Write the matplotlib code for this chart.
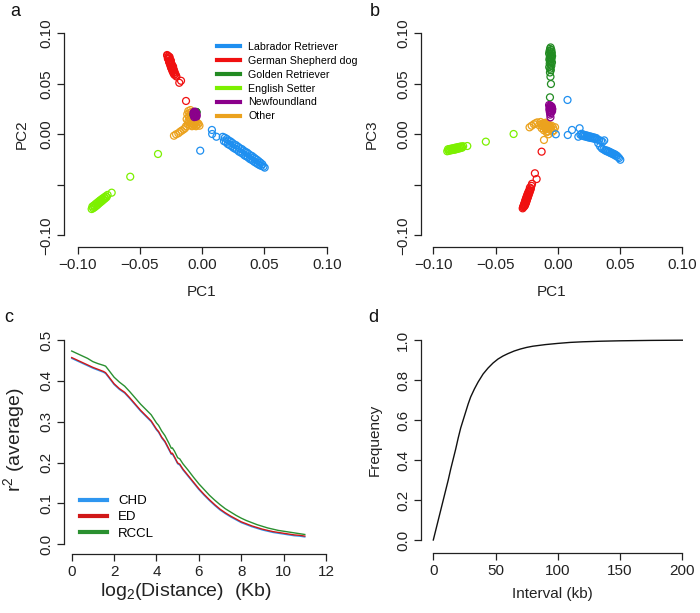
import matplotlib
matplotlib.use("Agg")
import matplotlib.pyplot as plt
from matplotlib.lines import Line2D
import numpy as np

plt.rcParams['font.family'] = ['Liberation Sans', 'DejaVu Sans']

# ---------------- data: PCA (PC1, PC2, PC3 per breed group) ----------------
breeds = ["Labrador Retriever", "German Shepherd dog", "Golden Retriever",
          "English Setter", "Newfoundland", "Other"]
breed_colors = ["#1E8FF0", "#F01010", "#228B22", "#7CF000", "#8B008B", "#EBA21E"]

lab_pc1 = [-0.0016, 0.0078, 0.0080, 0.0114, 0.0165, 0.0175, 0.0182, 0.0190, 0.0198, 0.0205,
           0.0212, 0.0220, 0.0228, 0.0235, 0.0242, 0.0250, 0.0258, 0.0265, 0.0272, 0.0280,
           0.0288, 0.0295, 0.0302, 0.0310, 0.0318, 0.0325, 0.0332, 0.0340, 0.0347, 0.0354,
           0.0360, 0.0367, 0.0373, 0.0380, 0.0387, 0.0393, 0.0400, 0.0407, 0.0414, 0.0420,
           0.0427, 0.0434, 0.0440, 0.0447, 0.0454, 0.0461, 0.0468, 0.0475, 0.0483, 0.0492, 0.0502]
lab_pc2 = [-0.0162, 0.0043, 0.0003, -0.0024, -0.0025, -0.0068, -0.0034, -0.0076, -0.0046, -0.0096,
           -0.0061, -0.0106, -0.0071, -0.0117, -0.0085, -0.0133, -0.0100, -0.0144, -0.0108, -0.0154,
           -0.0123, -0.0171, -0.0137, -0.0181, -0.0146, -0.0192, -0.0160, -0.0209, -0.0174, -0.0218,
           -0.0181, -0.0227, -0.0195, -0.0242, -0.0208, -0.0251, -0.0215, -0.0261, -0.0229, -0.0274,
           -0.0242, -0.0284, -0.0253, -0.0295, -0.0267, -0.0305, -0.0281, -0.0313, -0.0297, -0.0320, -0.0330]
lab_pc3 = [0.0000, 0.0340, -0.0007, 0.0043, -0.0024, 0.0060, -0.0005, 0.0005, -0.0015, -0.0002,
           -0.0020, -0.0008, -0.0025, -0.0012, -0.0030, -0.0018, -0.0035, -0.0022, -0.0038, -0.0028,
           -0.0042, -0.0032, -0.0048, -0.0038, -0.0052, -0.0090, -0.0058, -0.0120, -0.0065, -0.0140,
           -0.0075, -0.0150, -0.0060, -0.0158, -0.0165, -0.0160, -0.0172, -0.0168, -0.0180, -0.0175,
           -0.0188, -0.0185, -0.0195, -0.0192, -0.0205, -0.0200, -0.0215, -0.0212, -0.0225, -0.0235, -0.0252]

gsd_pc1 = [-0.0282, -0.0270, -0.0279, -0.0265, -0.0276, -0.0262, -0.0272, -0.0258, -0.0270, -0.0254,
           -0.0266, -0.0252, -0.0263, -0.0248, -0.0260, -0.0245, -0.0257, -0.0241, -0.0253, -0.0238,
           -0.0250, -0.0234, -0.0246, -0.0230, -0.0242, -0.0226, -0.0237, -0.0222, -0.0231, -0.0216,
           -0.0224, -0.0212, -0.0207, -0.0184, -0.0170, -0.0130]
gsd_pc2 = [0.0785, 0.0772, 0.0778, 0.0760, 0.0752, 0.0765, 0.0744, 0.0735, 0.0748, 0.0726,
           0.0718, 0.0730, 0.0709, 0.0700, 0.0712, 0.0692, 0.0684, 0.0676, 0.0688, 0.0668,
           0.0660, 0.0671, 0.0652, 0.0645, 0.0638, 0.0630, 0.0622, 0.0615, 0.0606, 0.0598,
           0.0590, 0.0582, 0.0572, 0.0510, 0.0530, 0.0330]
gsd_pc3 = [-0.0733, -0.0715, -0.0722, -0.0706, -0.0712, -0.0696, -0.0700, -0.0684, -0.0690, -0.0672,
           -0.0678, -0.0660, -0.0666, -0.0648, -0.0655, -0.0636, -0.0642, -0.0624, -0.0630, -0.0612,
           -0.0618, -0.0598, -0.0605, -0.0584, -0.0590, -0.0570, -0.0575, -0.0556, -0.0558, -0.0538,
           -0.0528, -0.0510, -0.0490, -0.0386, -0.0443, -0.0172]

gold_pc1 = [-0.0058, -0.0062, -0.0052, -0.0066, -0.0056, -0.0048, -0.0070, -0.0060, -0.0054, -0.0046,
            -0.0064, -0.0058, -0.0050, -0.0068, -0.0062, -0.0055, -0.0047, -0.0065, -0.0058, -0.0052,
            -0.0069, -0.0061, -0.0056, -0.0063, -0.0059, -0.0055, -0.0063]
gold_pc2 = [0.0205, 0.0212, 0.0218, 0.0200, 0.0210, 0.0222, 0.0195, 0.0208, 0.0215, 0.0220,
            0.0200, 0.0212, 0.0218, 0.0196, 0.0205, 0.0214, 0.0220, 0.0198, 0.0208, 0.0216,
            0.0194, 0.0204, 0.0212, 0.0200, 0.0206, 0.0210, 0.0202]
gold_pc3 = [0.0860, 0.0845, 0.0835, 0.0825, 0.0815, 0.0808, 0.0800, 0.0790, 0.0782, 0.0775,
            0.0765, 0.0758, 0.0750, 0.0740, 0.0730, 0.0722, 0.0712, 0.0700, 0.0690, 0.0678,
            0.0665, 0.0650, 0.0635, 0.0612, 0.0570, 0.0498, 0.0366]

es_pc1 = [-0.0888, -0.0882, -0.0876, -0.0870, -0.0864, -0.0858, -0.0852, -0.0846, -0.0840, -0.0834,
          -0.0828, -0.0822, -0.0816, -0.0810, -0.0804, -0.0798, -0.0792, -0.0786, -0.0780, -0.0774,
          -0.0768, -0.0760, -0.0727, -0.0578, -0.0355]
es_pc2 = [-0.0740, -0.0715, -0.0732, -0.0705, -0.0722, -0.0692, -0.0710, -0.0680, -0.0698, -0.0668,
          -0.0684, -0.0656, -0.0672, -0.0645, -0.0660, -0.0634, -0.0647, -0.0624, -0.0635, -0.0613,
          -0.0622, -0.0600, -0.0578, -0.0420, -0.0195]
es_pc3 = [-0.0168, -0.0148, -0.0164, -0.0146, -0.0160, -0.0142, -0.0157, -0.0140, -0.0154, -0.0136,
          -0.0152, -0.0132, -0.0148, -0.0130, -0.0144, -0.0126, -0.0140, -0.0123, -0.0136, -0.0120,
          -0.0132, -0.0118, -0.0116, -0.0073, 0.0003]

nf_pc1 = [-0.0070, -0.0062, -0.0055, -0.0048, -0.0066, -0.0058, -0.0050, -0.0044, -0.0068, -0.0060,
          -0.0053, -0.0046, -0.0064, -0.0057, -0.0061, -0.0059]
nf_pc2 = [0.0215, 0.0225, 0.0220, 0.0210, 0.0200, 0.0205, 0.0195, 0.0190, 0.0185, 0.0192,
          0.0180, 0.0175, 0.0170, 0.0178, 0.0200, 0.0210]
nf_pc3 = [0.0290, 0.0285, 0.0280, 0.0272, 0.0268, 0.0262, 0.0255, 0.0250, 0.0245, 0.0240,
          0.0232, 0.0228, 0.0220, 0.0210, 0.0195, 0.0168]

oth_pc1 = [-0.0227, -0.0210, -0.0192, -0.0178, -0.0165, -0.0150, -0.0138, -0.0130, -0.0125, -0.0120,
           -0.0115, -0.0112, -0.0108, -0.0105, -0.0102, -0.0100, -0.0097, -0.0095, -0.0092, -0.0090,
           -0.0087, -0.0085, -0.0082, -0.0080, -0.0077, -0.0075, -0.0072, -0.0068, -0.0064, -0.0060,
           -0.0055, -0.0050, -0.0044, -0.0038, -0.0030, -0.0022, -0.0111]
oth_pc2 = [-0.0014, 0.0000, 0.0010, 0.0025, 0.0036, 0.0048, 0.0060, 0.0080, 0.0150, 0.0200,
           0.0100, 0.0230, 0.0175, 0.0120, 0.0210, 0.0090, 0.0160, 0.0240, 0.0135, 0.0195,
           0.0110, 0.0220, 0.0080, 0.0170, 0.0140, 0.0100, 0.0205, 0.0125, 0.0090, 0.0150,
           0.0110, 0.0080, 0.0120, 0.0095, 0.0105, 0.0085, 0.0130]
oth_pc3 = [0.0069, 0.0085, 0.0100, 0.0110, 0.0118, 0.0090, 0.0122, 0.0060, 0.0105, 0.0080,
           0.0095, 0.0040, 0.0112, 0.0070, 0.0100, 0.0085, 0.0050, 0.0115, 0.0075, 0.0020,
           0.0095, 0.0060, 0.0105, 0.0030, 0.0080, 0.0000, 0.0065, 0.0090, 0.0045, 0.0075,
           0.0055, 0.0085, 0.0025, 0.0065, 0.0040, 0.0070, -0.0056]

# ---------------- data: LD decay (panel c) ----------------
ld_dist = [0.0, 0.25, 0.5, 0.75, 1.0, 1.25, 1.5, 1.6, 1.75, 2.0, 2.25, 2.5, 2.75, 3.0, 3.25, 3.5,
           3.75, 4.0, 4.1, 4.25, 4.4, 4.5, 4.6, 4.7, 4.75, 4.85, 5.0, 5.1, 5.25, 5.5, 5.75, 6.0,
           6.25, 6.5, 6.75, 7.0, 7.25, 7.5, 7.75, 8.0, 8.25, 8.5, 8.75, 9.0, 9.25, 9.5, 9.75,
           10.0, 10.25, 10.5, 10.75, 11.0]
ld_ed = [0.457, 0.451, 0.445, 0.439, 0.433, 0.428, 0.423, 0.420, 0.410, 0.393, 0.381, 0.372, 0.358,
         0.343, 0.328, 0.315, 0.302, 0.282, 0.276, 0.262, 0.252, 0.242, 0.232, 0.222, 0.223, 0.214,
         0.199, 0.196, 0.184, 0.168, 0.152, 0.136, 0.122, 0.109, 0.097, 0.086, 0.077, 0.069, 0.062,
         0.055, 0.050, 0.045, 0.041, 0.037, 0.034, 0.031, 0.029, 0.027, 0.025, 0.023, 0.022, 0.020]
ld_chd = [0.455, 0.449, 0.443, 0.437, 0.431, 0.426, 0.421, 0.418, 0.408, 0.391, 0.379, 0.370, 0.356,
          0.341, 0.326, 0.313, 0.300, 0.280, 0.274, 0.260, 0.250, 0.240, 0.230, 0.220, 0.221, 0.212,
          0.197, 0.194, 0.182, 0.166, 0.150, 0.134, 0.120, 0.107, 0.095, 0.084, 0.075, 0.067, 0.060,
          0.053, 0.048, 0.043, 0.039, 0.035, 0.032, 0.029, 0.027, 0.025, 0.023, 0.021, 0.020, 0.018]
ld_rccl = [0.473, 0.467, 0.461, 0.455, 0.447, 0.442, 0.438, 0.436, 0.426, 0.409, 0.397, 0.387, 0.373,
           0.358, 0.343, 0.330, 0.317, 0.297, 0.291, 0.277, 0.266, 0.256, 0.246, 0.235, 0.236, 0.228,
           0.212, 0.209, 0.197, 0.181, 0.164, 0.148, 0.134, 0.120, 0.108, 0.097, 0.087, 0.079, 0.071,
           0.064, 0.058, 0.053, 0.048, 0.044, 0.040, 0.037, 0.034, 0.032, 0.030, 0.028, 0.026, 0.024]
ld_labels = ["CHD", "ED", "RCCL"]
ld_colors = ["#2E96F0", "#D01818", "#2A9030"]

# ---------------- data: interval frequency (panel d) ----------------
interval_kb = [0, 2, 4, 6, 8, 10, 12, 14, 16, 18, 20, 22, 24, 26, 28, 30, 33, 36, 40, 44, 48, 52,
               56, 60, 65, 70, 75, 80, 90, 100, 110, 120, 135, 150, 175, 200]
interval_freq = [0.0, 0.05, 0.10, 0.15, 0.20, 0.25, 0.30, 0.355, 0.405, 0.455, 0.51, 0.56, 0.60,
                 0.64, 0.68, 0.715, 0.755, 0.79, 0.83, 0.86, 0.885, 0.905, 0.92, 0.932, 0.945,
                 0.955, 0.963, 0.969, 0.977, 0.983, 0.988, 0.991, 0.994, 0.996, 0.998, 0.999]

# ---------------- layout helpers ----------------
W, H = 700, 613
fig = plt.figure(figsize=(W / 100, H / 100), dpi=100)
TICK_FS = 11


def make_axes(spine_x, spine_y, xcal, ycal):
    (xv0, xp0), (xv1, xp1) = xcal
    (yv0, yp0), (yv1, yp1) = ycal
    left = spine_x
    right = xp1 + (xp0 - spine_x)
    bottom = spine_y
    top = yp1 - (spine_y - yp0)
    ax = fig.add_axes([left / W, 1 - bottom / H, (right - left) / W, (bottom - top) / H])
    sx = (xv1 - xv0) / (xp1 - xp0)
    sy = (yv1 - yv0) / (yp1 - yp0)
    ax.set_xlim(xv0 + (left - xp0) * sx, xv0 + (right - xp0) * sx)
    ax.set_ylim(yv0 + (bottom - yp0) * sy, yv0 + (top - yp0) * sy)
    for s in ("top", "right"):
        ax.spines[s].set_visible(False)
    for s in ("left", "bottom"):
        ax.spines[s].set_linewidth(0.9)
        ax.spines[s].set_color("#222222")
    ax.tick_params(direction="out", length=5, width=0.9, color="#222222",
                   labelsize=TICK_FS, labelcolor="#222222")
    ax.tick_params(axis="x", pad=3.0)
    ax.tick_params(axis="y", pad=3.0, labelrotation=90)
    return ax


def set_ticks(ax, xt, xl, yt, yl):
    ax.set_xticks(xt)
    ax.set_xticklabels(xl)
    ax.set_yticks(yt)
    ax.set_yticklabels(yl, va="center")
    ax.spines["bottom"].set_bounds(xt[0], xt[-1])
    ax.spines["left"].set_bounds(yt[0], yt[-1])


def ftext(x, y, s, **kw):
    fig.text(x / W, 1 - y / H, s, **kw)


pc_ticks = [-0.10, -0.05, 0.00, 0.05, 0.10]
pc_xlabels = ["\u22120.10", "\u22120.05", "0.00", "0.05", "0.10"]
pc_ylabels = ["\u22120.10", "", "0.00", "0.05", "0.10"]

groups_pc1 = [oth_pc1, lab_pc1, gsd_pc1, gold_pc1, es_pc1, nf_pc1]
groups_pc2 = [oth_pc2, lab_pc2, gsd_pc2, gold_pc2, es_pc2, nf_pc2]
groups_pc3 = [oth_pc3, lab_pc3, gsd_pc3, gold_pc3, es_pc3, nf_pc3]
group_cols = [breed_colors[5], breed_colors[0], breed_colors[1], breed_colors[2],
              breed_colors[3], breed_colors[4]]

MS = 25

# ---------------- panel a ----------------
axa = make_axes(64, 247, ((-0.10, 77.7), (0.10, 326.7)), ((-0.10, 235.3), (0.10, 33.3)))
for x, y, c in zip(groups_pc1, groups_pc2, group_cols):
    axa.scatter(x, y, s=MS, facecolors="none", edgecolors=c, linewidths=0.9, clip_on=False)
set_ticks(axa, pc_ticks, pc_xlabels, pc_ticks, pc_ylabels)
handles = [Line2D([], [], color=c, lw=3) for c in breed_colors]
axa.legend(handles, breeds, loc="upper left", bbox_to_anchor=(217 / W, 1 - 42 / H),
           bbox_transform=fig.transFigure, frameon=False, fontsize=7.7,
           handlelength=2.15, handletextpad=0.75, labelspacing=0.36, borderpad=0, borderaxespad=0)

# ---------------- panel b ----------------
axb = make_axes(421, 247, ((-0.10, 433.3), (0.10, 682.3)), ((-0.10, 235.3), (0.10, 33.3)))
for x, y, c in zip(groups_pc1, groups_pc3, group_cols):
    axb.scatter(x, y, s=MS, facecolors="none", edgecolors=c, linewidths=0.9, clip_on=False)
set_ticks(axb, pc_ticks, pc_xlabels, pc_ticks, pc_ylabels)

# ---------------- panel c ----------------
axc = make_axes(64.3, 554, ((0, 71.7), (12, 326)), ((0.0, 544.3), (0.5, 340)))
for yv, c, lab in zip([ld_chd, ld_ed, ld_rccl], ld_colors, ld_labels):
    axc.plot(ld_dist, yv, color=c, lw=1.0, label=lab)
set_ticks(axc, [0, 2, 4, 6, 8, 10, 12], ["0", "2", "4", "6", "8", "10", "12"],
          [0.0, 0.1, 0.2, 0.3, 0.4, 0.5], ["0.0", "0.1", "0.2", "0.3", "0.4", "0.5"])
hc = [Line2D([], [], color=c, lw=3) for c in ld_colors]
axc.legend(hc, ld_labels, loc="upper left", bbox_to_anchor=(80 / W, 1 - 495 / H),
           bbox_transform=fig.transFigure, frameon=False, fontsize=9.5,
           handlelength=2.05, handletextpad=0.85, labelspacing=0.30, borderpad=0, borderaxespad=0)

# ---------------- panel d ----------------
axd = make_axes(421, 553.3, ((0, 433.3), (200, 682.3)), ((0.0, 540), (1.0, 340)))
axd.plot(interval_kb, interval_freq, color="#111111", lw=1.0)
set_ticks(axd, [0, 50, 100, 150, 200], ["0", "50", "100", "150", "200"],
          [0.0, 0.2, 0.4, 0.6, 0.8, 1.0], ["0.0", "0.2", "0.4", "0.6", "0.8", "1.0"])

# ---------------- axis labels and panel letters ----------------
lab_kw = dict(ha="center", va="center", fontsize=11, color="#222222")
big_kw = dict(ha="center", va="center", fontsize=14, color="#222222")
ftext(202, 292, "PC1", **lab_kw)
ftext(22, 134, "PC2", rotation=90, **lab_kw)
ftext(552, 292, "PC1", **lab_kw)
ftext(372, 134, "PC3", rotation=90, **lab_kw)
ftext(186, 592, "log$_\\mathregular{2}$(Distance)  (Kb)", **big_kw)
ftext(15, 440, "r$^\\mathregular{2}$ (average)", rotation=90, **big_kw)
ftext(552, 594, "Interval (kb)", **lab_kw)
ftext(375, 440, "Frequency", rotation=90, **lab_kw)

let_kw = dict(ha="center", va="center", fontsize=13, color="#111111")
ftext(15, 12, "a", **let_kw)
ftext(375, 12, "b", **let_kw)
ftext(9, 318, "c", **let_kw)
ftext(373, 318, "d", **let_kw)

fig.savefig("out.png", dpi=100)
